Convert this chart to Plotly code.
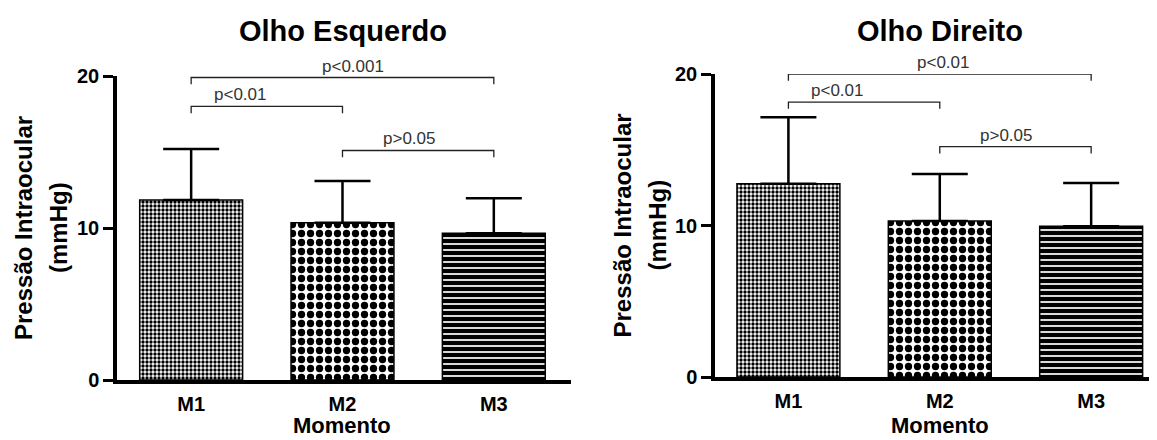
import plotly.graph_objects as go

# ---------------- data ----------------
categories = ["M1", "M2", "M3"]
left_means = [11.85, 10.35, 9.65]
left_sd = [3.35, 2.75, 2.3]
right_means = [12.75, 10.3, 9.95]
right_sd = [4.4, 3.1, 2.85]
y_ticks = [0, 10, 20]
titles = ["Olho Esquerdo", "Olho Direito"]
y_title_lines = ["Pressão Intraocular", "(mmHg)"]
x_title = "Momento"
# comparisons: (from index, to index, bracket height, label, label x position)
left_brackets = [
    (0, 2, 19.9, "p<0.001", 1.07),
    (0, 1, 18.0, "p<0.01", 0.32),
    (1, 2, 15.1, "p>0.05", 1.44),
]
right_brackets = [
    (0, 2, 20.0, "p<0.01", 1.02),
    (0, 1, 18.15, "p<0.01", 0.32),
    (1, 2, 15.2, "p>0.05", 1.44),
]

# ---------------- style ----------------
OFF = 8                      # page body margin in the browser
W, H = 1157 - OFF, 440 - OFF  # figure size so that it fits the window


def fx(p):  # window pixel -> paper x
    return (p - OFF) / W


def fy(p):  # window pixel -> paper y
    return 1 - (p - OFF) / H


FONT = "Liberation Sans, Arial, sans-serif"
pattern = dict(
    shape=[".", ".", "-"],
    size=[4, 9, 6],
    solidity=[0.55, 0.52, 0.68],
    fgcolor=["black", "black", "black"],
    bgcolor=["white", "white", "#e2e2e2"],
    fillmode="replace",
)

fig = go.Figure()

panels = [
    dict(means=left_means, sd=left_sd, brackets=left_brackets, xa="x", ya="y",
         xdom=[fx(117), fx(571)], ydom=[fy(380), fy(76)], xrange=[-0.49, 2.51],
         ytitle_px=[23, 58], title_px=343),
    dict(means=right_means, sd=right_sd, brackets=right_brackets, xa="x2", ya="y2",
         xdom=[fx(715), 1.0], ydom=[fy(377), fy(74)], xrange=[-0.485, 2.435],
         ytitle_px=[622, 657], title_px=940),
]

shapes = []
annotations = []
for k, p in enumerate(panels):
    fig.add_trace(go.Bar(
        x=categories, y=p["means"], xaxis=p["xa"], yaxis=p["ya"],
        width=0.68,
        marker=dict(color="white", pattern=pattern, line=dict(color="black", width=1.5)),
        error_y=dict(type="data", array=p["sd"], arrayminus=[0] * len(p["sd"]),
                     symmetric=False, color="black", thickness=2.5, width=28),
        showlegend=False, hoverinfo="skip",
    ))
    drop = 0.45
    for (i, j, h, label, lx) in p["brackets"]:
        shapes.append(dict(
            type="path", xref=p["xa"], yref=p["ya"],
            path=f"M {i},{h - drop} L {i},{h} L {j},{h} L {j},{h - drop}",
            line=dict(color="#222222", width=1.3),
        ))
        annotations.append(dict(
            x=lx, y=h, xref=p["xa"], yref=p["ya"], text=label, showarrow=False,
            yanchor="bottom", yshift=0,
            font=dict(family=FONT, size=17, color="#333333"),
        ))
    # panel title
    annotations.append(dict(
        x=fx(p["title_px"]), y=fy(31),
        xref="paper", yref="paper", text=titles[k], showarrow=False,
        xanchor="center", yanchor="middle",
        font=dict(family=FONT, size=29, color="black", weight="bold"),
    ))
    # x title
    annotations.append(dict(
        x=1, y=fy(425), xref=p["xa"], yref="paper", text=x_title, showarrow=False,
        xanchor="center", yanchor="middle",
        font=dict(family=FONT, size=22, color="black", weight="bold"),
    ))
    # y title (two lines)
    for line_txt, px in zip(y_title_lines, p["ytitle_px"]):
        annotations.append(dict(
            x=fx(px), y=10, xref="paper", yref=p["ya"], text=line_txt, showarrow=False,
            textangle=-90, xanchor="center", yanchor="middle",
            font=dict(family=FONT, size=24, color="black", weight="bold"),
        ))

axis_common_x = dict(
    type="category", showline=True, linecolor="black", linewidth=3.5,
    ticks="", showgrid=False, zeroline=False, automargin=False,
    tickfont=dict(family=FONT, size=20, color="black", weight="bold"),
    ticklabelstandoff=3,
)
axis_common_y = dict(
    range=[0, 20], tickvals=y_ticks, showline=True, linecolor="black", linewidth=3.5,
    ticks="outside", ticklen=10, tickwidth=2.5, tickcolor="black",
    showgrid=False, zeroline=False, automargin=False,
    tickfont=dict(family=FONT, size=20, color="black", weight="bold"),
)

fig.update_layout(
    template="none",
    width=W, height=H, autosize=False,
    margin=dict(l=0, r=0, t=0, b=0, pad=0),
    paper_bgcolor="white", plot_bgcolor="white",
    xaxis=dict(axis_common_x, domain=panels[0]["xdom"], range=panels[0]["xrange"], anchor="y"),
    yaxis=dict(axis_common_y, domain=panels[0]["ydom"], anchor="x"),
    xaxis2=dict(axis_common_x, domain=panels[1]["xdom"], range=panels[1]["xrange"], anchor="y2"),
    yaxis2=dict(axis_common_y, domain=panels[1]["ydom"], anchor="x2"),
    shapes=shapes,
    annotations=annotations,
)

fig.write_html("out.html", config={"displayModeBar": False})
